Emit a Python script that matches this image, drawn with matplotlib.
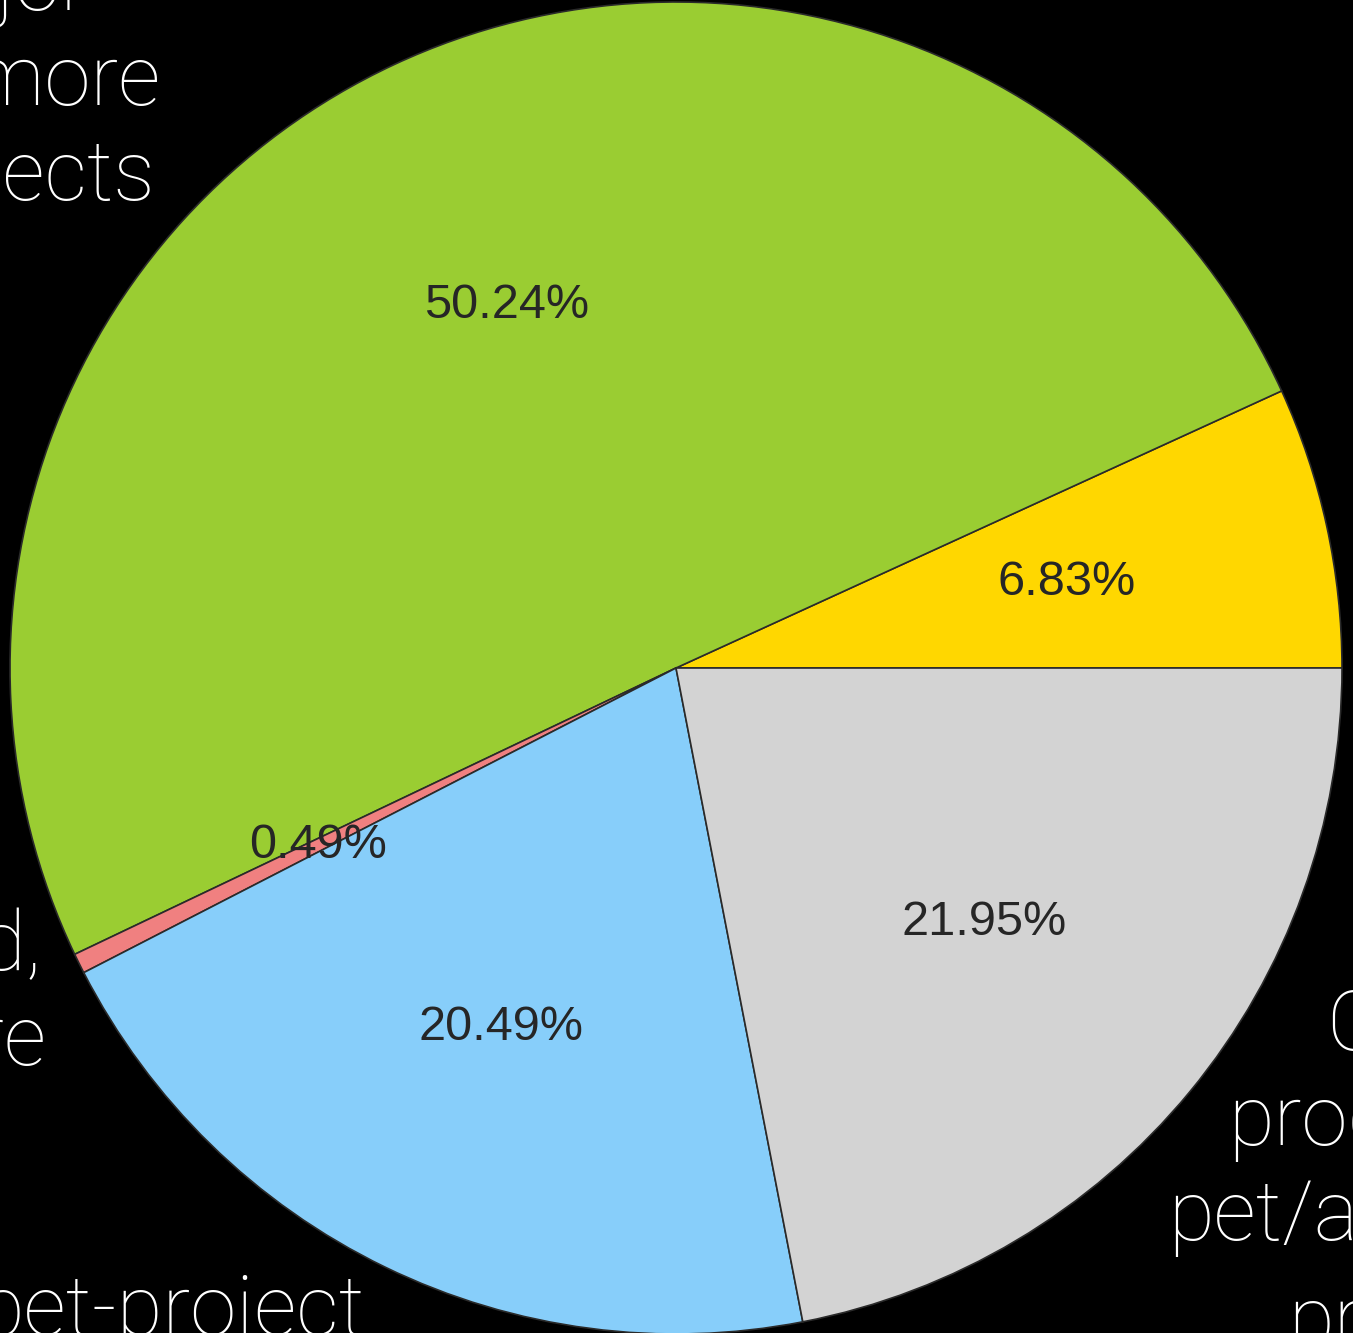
import matplotlib.pyplot as plt
from matplotlib import font_manager

# survey answers (counts), drawn counter-clockwise from 3 o'clock
counts = [14, 103, 1, 42, 45]
colors = ['gold', 'yellowgreen', 'lightcoral', 'lightskyblue', 'lightgray']

# category captions set around the pie in large white type
caption_lines = [
    # text, x px, baseline px, alignment
    ('1 major', 88, 10, 'right'),
    ('or more', 160, 105, 'right'),
    ('projects', 155, 200, 'right'),
    ('Abandoned,', 42, 970, 'right'),
    ('software', 47, 1065, 'right'),
    ('pet-project', 365, 1335, 'right'),
    ('Client', 1326, 1050, 'left'),
    ('production', 1228, 1145, 'left'),
    ('pet/academic', 1168, 1240, 'left'),
    ('project', 1288, 1346, 'left'),
]

W, H = 1353, 1333
cx, cy, R = 676, 668, 666

names = {f.name for f in font_manager.fontManager.ttflist}
caption_font = 'Roboto' if 'Roboto' in names else 'DejaVu Sans'

fig = plt.figure(figsize=(W / 100, H / 100), dpi=100, facecolor='black')
ax = fig.add_axes([0, 0, 1, 1])
ax.set_facecolor('black')

wedges, texts, autotexts = ax.pie(
    counts, colors=colors, startangle=0, counterclock=True,
    autopct='%1.2f%%', pctdistance=0.6,
    wedgeprops=dict(edgecolor='#2a2a2a', linewidth=1.2),
    textprops=dict(color='#262626', fontsize=35, family='Liberation Sans'))

# put the unit circle where it belongs in the canvas
ax.set_xlim(-cx / R, (W - cx) / R)
ax.set_ylim(-(H - cy) / R, cy / R)
ax.set_aspect('auto')
ax.axis('off')

for txt, x, y, ha in caption_lines:
    fig.text(x / W, 1 - y / H, txt, ha=ha, va='baseline', color='white',
             fontsize=60, family=caption_font, fontweight='light')

fig.savefig('out.png', dpi=100, facecolor='black')
